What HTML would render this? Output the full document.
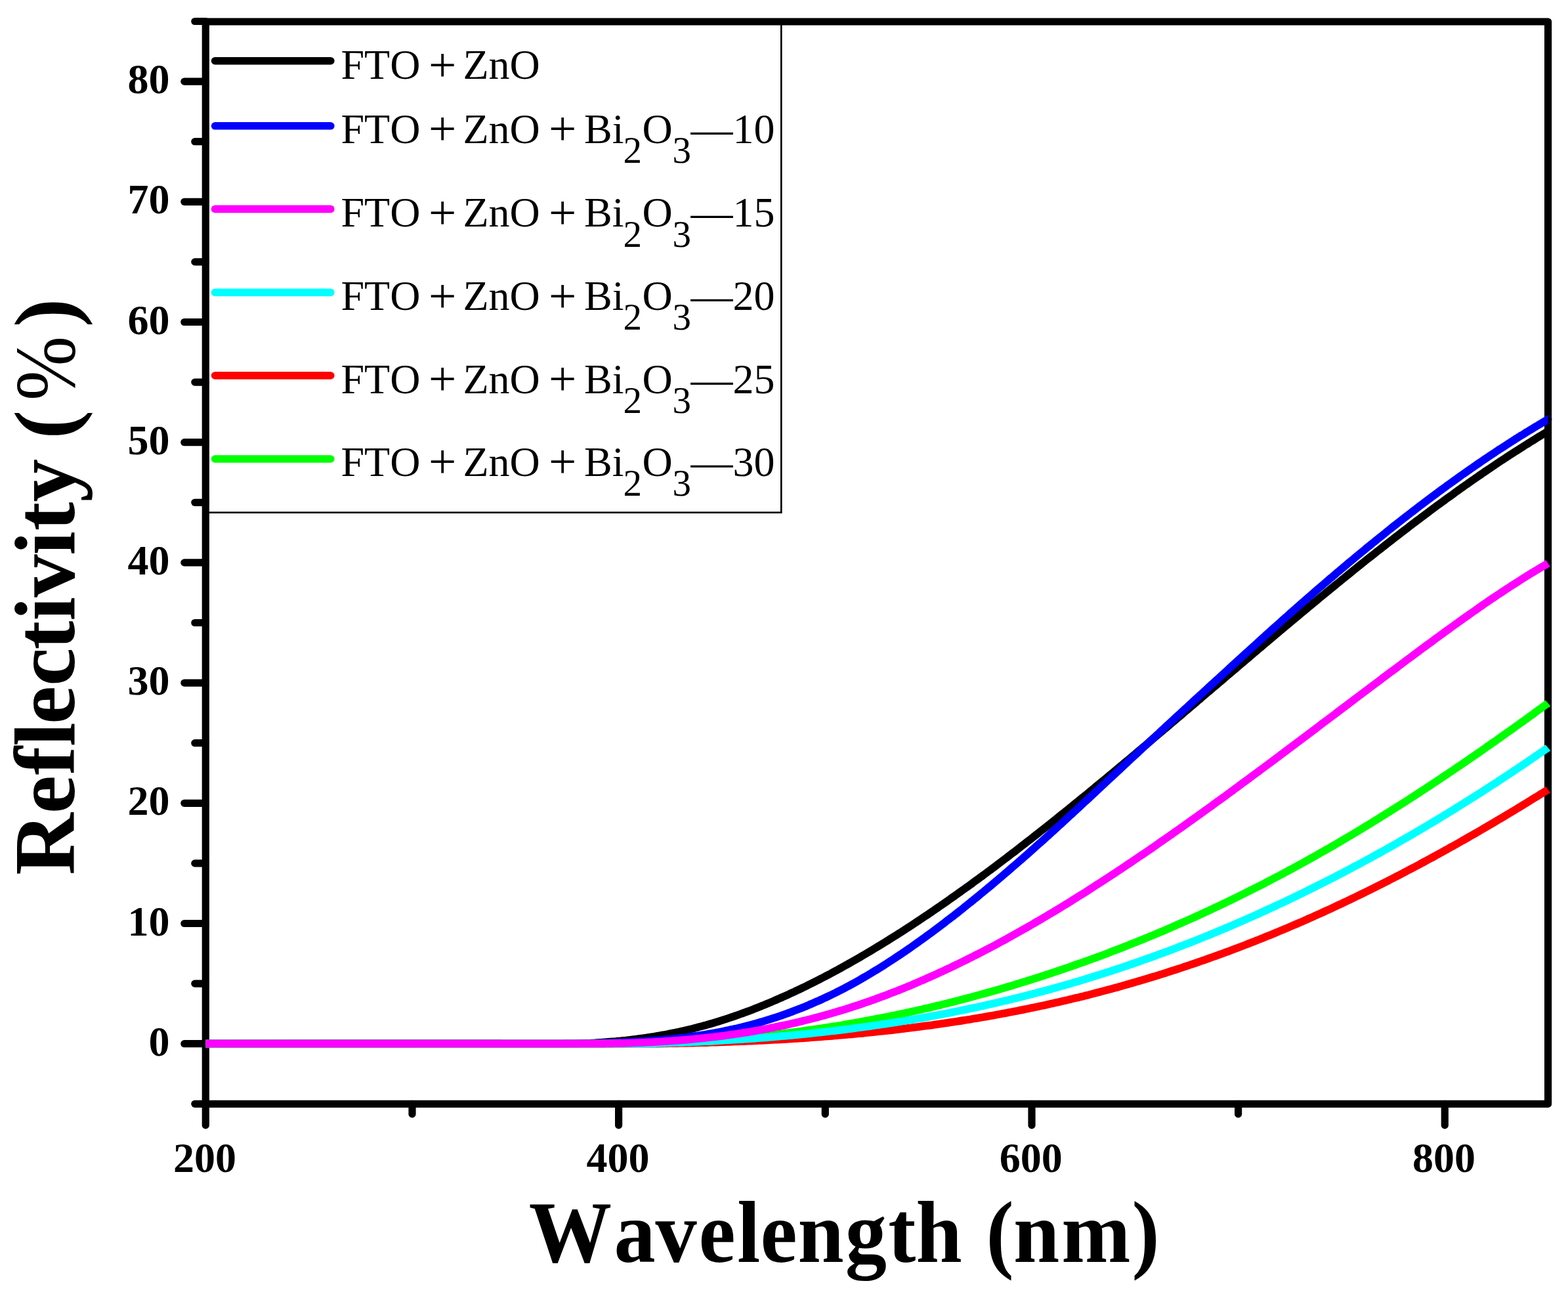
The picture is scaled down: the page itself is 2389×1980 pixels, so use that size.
<!DOCTYPE html>
<html><head><meta charset="utf-8"><title>Reflectivity vs Wavelength</title>
<style>html,body{margin:0;padding:0;background:#fff;overflow:hidden;}svg{display:block;}text{font-kerning:none;font-family:'Liberation Serif', 'Times New Roman', serif;}</style></head><body>
<svg width="2389" height="1980" viewBox="0 0 2389 1980">
<rect width="2389" height="1980" fill="#fff"/>
<g stroke="#000" stroke-width="11.2" fill="none" stroke-linecap="round">
<rect x="313.3" y="33.0" width="2045.3" height="1648.4" stroke-linejoin="round"/>
<line x1="296.8" y1="1681.3" x2="313.3" y2="1681.3"/>
<line x1="280.8" y1="1589.7" x2="313.3" y2="1589.7"/>
<line x1="296.8" y1="1498.1" x2="313.3" y2="1498.1"/>
<line x1="280.8" y1="1406.5" x2="313.3" y2="1406.5"/>
<line x1="296.8" y1="1314.9" x2="313.3" y2="1314.9"/>
<line x1="280.8" y1="1223.3" x2="313.3" y2="1223.3"/>
<line x1="296.8" y1="1131.7" x2="313.3" y2="1131.7"/>
<line x1="280.8" y1="1040.1" x2="313.3" y2="1040.1"/>
<line x1="296.8" y1="948.5" x2="313.3" y2="948.5"/>
<line x1="280.8" y1="856.9" x2="313.3" y2="856.9"/>
<line x1="296.8" y1="765.3" x2="313.3" y2="765.3"/>
<line x1="280.8" y1="673.7" x2="313.3" y2="673.7"/>
<line x1="296.8" y1="582.1" x2="313.3" y2="582.1"/>
<line x1="280.8" y1="490.5" x2="313.3" y2="490.5"/>
<line x1="296.8" y1="398.9" x2="313.3" y2="398.9"/>
<line x1="280.8" y1="307.3" x2="313.3" y2="307.3"/>
<line x1="296.8" y1="215.7" x2="313.3" y2="215.7"/>
<line x1="280.8" y1="124.1" x2="313.3" y2="124.1"/>
<line x1="296.8" y1="32.5" x2="313.3" y2="32.5"/>
<line x1="313.3" y1="1681.4" x2="313.3" y2="1713.9"/>
<line x1="628.0" y1="1681.4" x2="628.0" y2="1696.9"/>
<line x1="942.6" y1="1681.4" x2="942.6" y2="1713.9"/>
<line x1="1257.3" y1="1681.4" x2="1257.3" y2="1696.9"/>
<line x1="1572.0" y1="1681.4" x2="1572.0" y2="1713.9"/>
<line x1="1886.6" y1="1681.4" x2="1886.6" y2="1696.9"/>
<line x1="2201.3" y1="1681.4" x2="2201.3" y2="1713.9"/>
</g>
<g font-weight="bold" font-size="64" fill="#000">
<text x="258.5" y="1607.7" text-anchor="end">0</text>
<text x="258.5" y="1424.5" text-anchor="end">10</text>
<text x="258.5" y="1241.3" text-anchor="end">20</text>
<text x="258.5" y="1058.1" text-anchor="end">30</text>
<text x="258.5" y="874.9" text-anchor="end">40</text>
<text x="258.5" y="691.7" text-anchor="end">50</text>
<text x="258.5" y="508.5" text-anchor="end">60</text>
<text x="258.5" y="325.3" text-anchor="end">70</text>
<text x="258.5" y="142.1" text-anchor="end">80</text>
<text x="312.1" y="1785.3" text-anchor="middle">200</text>
<text x="941.4" y="1785.3" text-anchor="middle">400</text>
<text x="1570.8" y="1785.3" text-anchor="middle">600</text>
<text x="2200.1" y="1785.3" text-anchor="middle">800</text>
</g>
<text transform="matrix(0.950,0,0,1,0,0)" x="848.1 984.8 1051.1 1120.6 1182.3 1219.6 1279.4 1355.5 1424.5 1468.9 1542.8 1581.5 1625.2 1702.5 1815.2" y="1921.8" font-weight="bold" font-size="133.0" fill="#000">Wavelength (nm)</text>
<text transform="translate(112.6,0) rotate(-90)" y="0" font-weight="bold" font-size="131" fill="#000"><tspan x="-1332.7 -1239.3 -1180.4 -1136.7 -1102.9 -1044.7 -989.2 -945.4 -909.8 -845.4 -808.3 -764.5 -699.0 -668.5">Reflectivity (</tspan><tspan x="-610.0" font-weight="normal" textLength="98.0" lengthAdjust="spacingAndGlyphs">%</tspan><tspan x="-498.3">)</tspan></text>
<rect x="313.3" y="33.0" width="877.0" height="747.6" fill="none" stroke="#000" stroke-width="2.6"/>
<line x1="327.6" y1="92.7" x2="503.8" y2="92.7" stroke="#000000" stroke-width="11.6" stroke-linecap="round"/>
<text y="120.0" font-size="64" fill="#000"><tspan x="519.5">FTO</tspan><tspan x="653" dy="3.7" font-size="75">+</tspan><tspan x="705.5" dy="-3.7">ZnO</tspan></text>
<line x1="327.6" y1="191.8" x2="503.8" y2="191.8" stroke="#0000ff" stroke-width="11.6" stroke-linecap="round"/>
<text y="217.5" font-size="64" fill="#000"><tspan x="519.5">FTO</tspan><tspan x="653" dy="3.7" font-size="75">+</tspan><tspan x="705.5" dy="-3.7">ZnO</tspan><tspan x="836" dy="3.7" font-size="75">+</tspan><tspan x="890" dy="-3.7">Bi</tspan><tspan x="949.5" dy="30.5" font-size="57">2</tspan><tspan x="978.4" dy="-30.5">O</tspan><tspan x="1024.6" dy="30.5" font-size="57">3</tspan><tspan x="1052.6" dy="-30.5">—</tspan><tspan x="1116.6">10</tspan></text>
<line x1="327.6" y1="318.4" x2="503.8" y2="318.4" stroke="#ff00ff" stroke-width="11.6" stroke-linecap="round"/>
<text y="345.1" font-size="64" fill="#000"><tspan x="519.5">FTO</tspan><tspan x="653" dy="3.7" font-size="75">+</tspan><tspan x="705.5" dy="-3.7">ZnO</tspan><tspan x="836" dy="3.7" font-size="75">+</tspan><tspan x="890" dy="-3.7">Bi</tspan><tspan x="949.5" dy="30.5" font-size="57">2</tspan><tspan x="978.4" dy="-30.5">O</tspan><tspan x="1024.6" dy="30.5" font-size="57">3</tspan><tspan x="1052.6" dy="-30.5">—</tspan><tspan x="1116.6">15</tspan></text>
<line x1="327.6" y1="445.4" x2="503.8" y2="445.4" stroke="#00ffff" stroke-width="11.6" stroke-linecap="round"/>
<text y="471.8" font-size="64" fill="#000"><tspan x="519.5">FTO</tspan><tspan x="653" dy="3.7" font-size="75">+</tspan><tspan x="705.5" dy="-3.7">ZnO</tspan><tspan x="836" dy="3.7" font-size="75">+</tspan><tspan x="890" dy="-3.7">Bi</tspan><tspan x="949.5" dy="30.5" font-size="57">2</tspan><tspan x="978.4" dy="-30.5">O</tspan><tspan x="1024.6" dy="30.5" font-size="57">3</tspan><tspan x="1052.6" dy="-30.5">—</tspan><tspan x="1116.6">20</tspan></text>
<line x1="327.6" y1="572.0" x2="503.8" y2="572.0" stroke="#ff0000" stroke-width="11.6" stroke-linecap="round"/>
<text y="598.7" font-size="64" fill="#000"><tspan x="519.5">FTO</tspan><tspan x="653" dy="3.7" font-size="75">+</tspan><tspan x="705.5" dy="-3.7">ZnO</tspan><tspan x="836" dy="3.7" font-size="75">+</tspan><tspan x="890" dy="-3.7">Bi</tspan><tspan x="949.5" dy="30.5" font-size="57">2</tspan><tspan x="978.4" dy="-30.5">O</tspan><tspan x="1024.6" dy="30.5" font-size="57">3</tspan><tspan x="1052.6" dy="-30.5">—</tspan><tspan x="1116.6">25</tspan></text>
<line x1="327.6" y1="699.0" x2="503.8" y2="699.0" stroke="#00ff00" stroke-width="11.6" stroke-linecap="round"/>
<text y="724.7" font-size="64" fill="#000"><tspan x="519.5">FTO</tspan><tspan x="653" dy="3.7" font-size="75">+</tspan><tspan x="705.5" dy="-3.7">ZnO</tspan><tspan x="836" dy="3.7" font-size="75">+</tspan><tspan x="890" dy="-3.7">Bi</tspan><tspan x="949.5" dy="30.5" font-size="57">2</tspan><tspan x="978.4" dy="-30.5">O</tspan><tspan x="1024.6" dy="30.5" font-size="57">3</tspan><tspan x="1052.6" dy="-30.5">—</tspan><tspan x="1116.6">30</tspan></text>
<g fill="none" stroke-width="11.8" stroke-linecap="butt" stroke-linejoin="round">
<path stroke="#000000" d="M313.3,1589.7 C382.8,1589.6 659.2,1589.4 730.0,1589.4 C800.8,1589.3 735.3,1589.4 738.0,1589.5 C740.7,1589.5 743.3,1589.5 746.0,1589.6 C748.7,1589.6 751.3,1589.7 754.0,1589.7 C756.7,1589.7 759.3,1589.7 762.0,1589.7 C764.7,1589.7 767.3,1589.7 770.0,1589.7 C772.7,1589.7 775.3,1589.7 778.0,1589.7 C780.7,1589.7 783.3,1589.7 786.0,1589.7 C788.7,1589.7 791.3,1589.7 794.0,1589.7 C796.7,1589.7 799.3,1589.7 802.0,1589.7 C804.7,1589.7 807.3,1589.7 810.0,1589.7 C812.7,1589.7 815.3,1589.7 818.0,1589.7 C820.7,1589.7 823.3,1589.7 826.0,1589.7 C828.7,1589.7 831.3,1589.7 834.0,1589.7 C836.7,1589.7 839.3,1589.7 842.0,1589.7 C844.7,1589.7 847.3,1589.7 850.0,1589.7 C852.7,1589.7 855.3,1589.7 858.0,1589.7 C860.7,1589.7 863.3,1589.7 866.0,1589.7 C868.7,1589.7 871.3,1589.7 874.0,1589.7 C876.7,1589.7 879.3,1589.6 882.0,1589.5 C884.7,1589.4 887.3,1589.3 890.0,1589.2 C892.7,1589.1 895.3,1588.9 898.0,1588.8 C900.7,1588.7 903.3,1588.5 906.0,1588.4 C908.7,1588.2 911.3,1588.1 914.0,1587.9 C916.7,1587.7 919.3,1587.6 922.0,1587.4 C924.7,1587.2 927.3,1587.0 930.0,1586.7 C932.7,1586.5 935.3,1586.3 938.0,1586.1 C940.7,1585.8 943.3,1585.6 946.0,1585.3 C948.7,1585.0 951.3,1584.8 954.0,1584.5 C956.7,1584.2 959.3,1583.9 962.0,1583.6 C964.7,1583.3 967.3,1582.9 970.0,1582.6 C972.7,1582.3 975.3,1581.9 978.0,1581.5 C980.7,1581.2 983.3,1580.8 986.0,1580.4 C988.7,1580.0 991.3,1579.6 994.0,1579.2 C996.7,1578.7 999.3,1578.3 1002.0,1577.8 C1004.7,1577.4 1007.3,1576.9 1010.0,1576.4 C1012.7,1575.9 1015.3,1575.5 1018.0,1574.9 C1020.7,1574.4 1023.3,1573.9 1026.0,1573.3 C1028.7,1572.8 1031.3,1572.2 1034.0,1571.7 C1036.7,1571.1 1039.3,1570.5 1042.0,1569.9 C1044.7,1569.3 1047.3,1568.6 1050.0,1568.0 C1052.7,1567.4 1055.3,1566.7 1058.0,1566.0 C1060.7,1565.3 1063.3,1564.7 1066.0,1563.9 C1068.7,1563.2 1071.3,1562.5 1074.0,1561.8 C1076.7,1561.0 1079.3,1560.3 1082.0,1559.5 C1084.7,1558.7 1087.3,1557.9 1090.0,1557.1 C1092.7,1556.3 1095.3,1555.5 1098.0,1554.6 C1100.7,1553.8 1103.3,1552.9 1106.0,1552.1 C1108.7,1551.2 1111.3,1550.3 1114.0,1549.4 C1116.7,1548.5 1119.3,1547.6 1122.0,1546.7 C1124.7,1545.7 1127.3,1544.8 1130.0,1543.8 C1132.7,1542.9 1135.3,1541.9 1138.0,1540.9 C1140.7,1539.9 1143.3,1538.9 1146.0,1537.9 C1148.7,1536.8 1151.3,1535.8 1154.0,1534.7 C1156.7,1533.7 1159.3,1532.6 1162.0,1531.5 C1164.7,1530.5 1167.3,1529.4 1170.0,1528.3 C1172.7,1527.2 1175.3,1526.0 1178.0,1524.9 C1180.7,1523.8 1183.3,1522.6 1186.0,1521.4 C1188.7,1520.3 1191.3,1519.1 1194.0,1517.9 C1196.7,1516.7 1199.3,1515.5 1202.0,1514.3 C1204.7,1513.1 1207.3,1511.8 1210.0,1510.6 C1212.7,1509.3 1215.3,1508.1 1218.0,1506.8 C1220.7,1505.5 1223.3,1504.3 1226.0,1503.0 C1228.7,1501.7 1231.3,1500.3 1234.0,1499.0 C1236.7,1497.7 1239.3,1496.4 1242.0,1495.0 C1244.7,1493.7 1247.3,1492.3 1250.0,1490.9 C1252.7,1489.6 1255.3,1488.2 1258.0,1486.8 C1260.7,1485.4 1263.3,1484.0 1266.0,1482.6 C1268.7,1481.1 1271.3,1479.7 1274.0,1478.3 C1276.7,1476.8 1279.3,1475.3 1282.0,1473.9 C1284.7,1472.4 1287.3,1470.9 1290.0,1469.4 C1292.7,1468.0 1295.3,1466.4 1298.0,1464.9 C1300.7,1463.4 1303.3,1461.9 1306.0,1460.4 C1308.7,1458.8 1311.3,1457.3 1314.0,1455.7 C1316.7,1454.2 1319.3,1452.6 1322.0,1451.0 C1324.7,1449.4 1327.3,1447.8 1330.0,1446.2 C1332.7,1444.6 1335.3,1443.0 1338.0,1441.4 C1340.7,1439.8 1343.3,1438.2 1346.0,1436.5 C1348.7,1434.9 1351.3,1433.2 1354.0,1431.6 C1356.7,1429.9 1359.3,1428.2 1362.0,1426.5 C1364.7,1424.9 1367.3,1423.2 1370.0,1421.5 C1372.7,1419.8 1375.3,1418.1 1378.0,1416.3 C1380.7,1414.6 1383.3,1412.9 1386.0,1411.2 C1388.7,1409.4 1391.3,1407.7 1394.0,1405.9 C1396.7,1404.1 1399.3,1402.4 1402.0,1400.6 C1404.7,1398.8 1407.3,1397.0 1410.0,1395.2 C1412.7,1393.5 1415.3,1391.7 1418.0,1389.8 C1420.7,1388.0 1423.3,1386.2 1426.0,1384.4 C1428.7,1382.6 1431.3,1380.7 1434.0,1378.9 C1436.7,1377.0 1439.3,1375.2 1442.0,1373.3 C1444.7,1371.4 1447.3,1369.6 1450.0,1367.7 C1452.7,1365.8 1455.3,1363.9 1458.0,1362.0 C1460.7,1360.1 1463.3,1358.2 1466.0,1356.3 C1468.7,1354.4 1471.3,1352.5 1474.0,1350.6 C1476.7,1348.7 1479.3,1346.7 1482.0,1344.8 C1484.7,1342.8 1487.3,1340.9 1490.0,1338.9 C1492.7,1337.0 1495.3,1335.0 1498.0,1333.1 C1500.7,1331.1 1503.3,1329.1 1506.0,1327.1 C1508.7,1325.1 1511.3,1323.2 1514.0,1321.2 C1516.7,1319.2 1519.3,1317.2 1522.0,1315.1 C1524.7,1313.1 1527.3,1311.1 1530.0,1309.1 C1532.7,1307.1 1535.3,1305.0 1538.0,1303.0 C1540.7,1301.0 1543.3,1298.9 1546.0,1296.9 C1548.7,1294.8 1551.3,1292.8 1554.0,1290.7 C1556.7,1288.7 1559.3,1286.6 1562.0,1284.5 C1564.7,1282.5 1567.3,1280.4 1570.0,1278.3 C1572.7,1276.2 1575.3,1274.1 1578.0,1272.0 C1580.7,1269.9 1583.3,1267.8 1586.0,1265.7 C1588.7,1263.6 1591.3,1261.5 1594.0,1259.4 C1596.7,1257.3 1599.3,1255.2 1602.0,1253.0 C1604.7,1250.9 1607.3,1248.8 1610.0,1246.7 C1612.7,1244.5 1615.3,1242.4 1618.0,1240.2 C1620.7,1238.1 1623.3,1235.9 1626.0,1233.8 C1628.7,1231.6 1631.3,1229.5 1634.0,1227.3 C1636.7,1225.2 1639.3,1223.0 1642.0,1220.8 C1644.7,1218.7 1647.3,1216.5 1650.0,1214.3 C1652.7,1212.1 1655.3,1209.9 1658.0,1207.8 C1660.7,1205.6 1663.3,1203.4 1666.0,1201.2 C1668.7,1199.0 1671.3,1196.8 1674.0,1194.6 C1676.7,1192.4 1679.3,1190.2 1682.0,1188.0 C1684.7,1185.8 1687.3,1183.6 1690.0,1181.4 C1692.7,1179.1 1695.3,1176.9 1698.0,1174.7 C1700.7,1172.5 1703.3,1170.3 1706.0,1168.0 C1708.7,1165.8 1711.3,1163.6 1714.0,1161.4 C1716.7,1159.1 1719.3,1156.9 1722.0,1154.7 C1724.7,1152.4 1727.3,1150.2 1730.0,1148.0 C1732.7,1145.7 1735.3,1143.5 1738.0,1141.2 C1740.7,1139.0 1743.3,1136.7 1746.0,1134.5 C1748.7,1132.2 1751.3,1130.0 1754.0,1127.7 C1756.7,1125.5 1759.3,1123.2 1762.0,1121.0 C1764.7,1118.7 1767.3,1116.5 1770.0,1114.2 C1772.7,1111.9 1775.3,1109.7 1778.0,1107.4 C1780.7,1105.2 1783.3,1102.9 1786.0,1100.6 C1788.7,1098.4 1791.3,1096.1 1794.0,1093.8 C1796.7,1091.6 1799.3,1089.3 1802.0,1087.0 C1804.7,1084.8 1807.3,1082.5 1810.0,1080.2 C1812.7,1077.9 1815.3,1075.7 1818.0,1073.4 C1820.7,1071.1 1823.3,1068.9 1826.0,1066.6 C1828.7,1064.3 1831.3,1062.0 1834.0,1059.8 C1836.7,1057.5 1839.3,1055.2 1842.0,1053.0 C1844.7,1050.7 1847.3,1048.4 1850.0,1046.1 C1852.7,1043.9 1855.3,1041.6 1858.0,1039.3 C1860.7,1037.1 1863.3,1034.8 1866.0,1032.5 C1868.7,1030.2 1871.3,1028.0 1874.0,1025.7 C1876.7,1023.4 1879.3,1021.2 1882.0,1018.9 C1884.7,1016.6 1887.3,1014.4 1890.0,1012.1 C1892.7,1009.8 1895.3,1007.6 1898.0,1005.3 C1900.7,1003.0 1903.3,1000.8 1906.0,998.5 C1908.7,996.2 1911.3,994.0 1914.0,991.7 C1916.7,989.5 1919.3,987.2 1922.0,984.9 C1924.7,982.7 1927.3,980.4 1930.0,978.2 C1932.7,975.9 1935.3,973.7 1938.0,971.4 C1940.7,969.2 1943.3,966.9 1946.0,964.7 C1948.7,962.4 1951.3,960.2 1954.0,958.0 C1956.7,955.7 1959.3,953.5 1962.0,951.2 C1964.7,949.0 1967.3,946.8 1970.0,944.5 C1972.7,942.3 1975.3,940.1 1978.0,937.9 C1980.7,935.6 1983.3,933.4 1986.0,931.2 C1988.7,929.0 1991.3,926.8 1994.0,924.5 C1996.7,922.3 1999.3,920.1 2002.0,917.9 C2004.7,915.7 2007.3,913.5 2010.0,911.3 C2012.7,909.1 2015.3,906.9 2018.0,904.7 C2020.7,902.5 2023.3,900.3 2026.0,898.1 C2028.7,896.0 2031.3,893.8 2034.0,891.6 C2036.7,889.4 2039.3,887.2 2042.0,885.1 C2044.7,882.9 2047.3,880.7 2050.0,878.6 C2052.7,876.4 2055.3,874.3 2058.0,872.1 C2060.7,869.9 2063.3,867.8 2066.0,865.7 C2068.7,863.5 2071.3,861.4 2074.0,859.2 C2076.7,857.1 2079.3,855.0 2082.0,852.8 C2084.7,850.7 2087.3,848.6 2090.0,846.5 C2092.7,844.4 2095.3,842.3 2098.0,840.2 C2100.7,838.0 2103.3,835.9 2106.0,833.9 C2108.7,831.8 2111.3,829.7 2114.0,827.6 C2116.7,825.5 2119.3,823.4 2122.0,821.4 C2124.7,819.3 2127.3,817.2 2130.0,815.2 C2132.7,813.1 2135.3,811.0 2138.0,809.0 C2140.7,806.9 2143.3,804.9 2146.0,802.9 C2148.7,800.8 2151.3,798.8 2154.0,796.8 C2156.7,794.8 2159.3,792.7 2162.0,790.7 C2164.7,788.7 2167.3,786.7 2170.0,784.7 C2172.7,782.7 2175.3,780.7 2178.0,778.7 C2180.7,776.8 2183.3,774.8 2186.0,772.8 C2188.7,770.8 2191.3,768.9 2194.0,766.9 C2196.7,765.0 2199.3,763.0 2202.0,761.1 C2204.7,759.1 2207.3,757.2 2210.0,755.3 C2212.7,753.4 2215.3,751.4 2218.0,749.5 C2220.7,747.6 2223.3,745.7 2226.0,743.8 C2228.7,741.9 2231.3,740.0 2234.0,738.2 C2236.7,736.3 2239.3,734.4 2242.0,732.5 C2244.7,730.7 2247.3,728.8 2250.0,727.0 C2252.7,725.1 2255.3,723.3 2258.0,721.5 C2260.7,719.6 2263.3,717.8 2266.0,716.0 C2268.7,714.2 2271.3,712.4 2274.0,710.6 C2276.7,708.8 2279.3,707.0 2282.0,705.2 C2284.7,703.5 2287.3,701.7 2290.0,699.9 C2292.7,698.2 2295.3,696.4 2298.0,694.7 C2300.7,692.9 2303.3,691.2 2306.0,689.5 C2308.7,687.8 2311.3,686.1 2314.0,684.4 C2316.7,682.6 2319.3,681.0 2322.0,679.3 C2324.7,677.6 2327.3,675.9 2330.0,674.3 C2332.7,672.6 2335.3,670.9 2338.0,669.3 C2340.7,667.7 2343.3,666.0 2346.0,664.4 C2348.7,662.8 2351.9,660.8 2354.0,659.6 C2356.1,658.3 2357.8,657.3 2358.5,656.9"/>
<path stroke="#0000ff" d="M313.3,1589.7 C386.1,1589.7 675.9,1589.7 750.0,1589.7 C824.1,1589.7 755.3,1589.7 758.0,1589.7 C760.7,1589.7 763.3,1589.7 766.0,1589.7 C768.7,1589.7 771.3,1589.7 774.0,1589.7 C776.7,1589.7 779.3,1589.7 782.0,1589.7 C784.7,1589.7 787.3,1589.7 790.0,1589.7 C792.7,1589.7 795.3,1589.7 798.0,1589.7 C800.7,1589.7 803.3,1589.7 806.0,1589.7 C808.7,1589.7 811.3,1589.7 814.0,1589.7 C816.7,1589.7 819.3,1589.7 822.0,1589.7 C824.7,1589.7 827.3,1589.7 830.0,1589.7 C832.7,1589.7 835.3,1589.7 838.0,1589.7 C840.7,1589.7 843.3,1589.7 846.0,1589.7 C848.7,1589.6 851.3,1589.6 854.0,1589.6 C856.7,1589.6 859.3,1589.5 862.0,1589.5 C864.7,1589.5 867.3,1589.5 870.0,1589.4 C872.7,1589.4 875.3,1589.4 878.0,1589.3 C880.7,1589.3 883.3,1589.3 886.0,1589.2 C888.7,1589.2 891.3,1589.1 894.0,1589.1 C896.7,1589.0 899.3,1589.0 902.0,1588.9 C904.7,1588.9 907.3,1588.8 910.0,1588.7 C912.7,1588.7 915.3,1588.6 918.0,1588.5 C920.7,1588.5 923.3,1588.4 926.0,1588.3 C928.7,1588.2 931.3,1588.2 934.0,1588.1 C936.7,1588.0 939.3,1587.9 942.0,1587.8 C944.7,1587.7 947.3,1587.6 950.0,1587.5 C952.7,1587.3 955.3,1587.2 958.0,1587.1 C960.7,1587.0 963.3,1586.8 966.0,1586.7 C968.7,1586.6 971.3,1586.4 974.0,1586.2 C976.7,1586.1 979.3,1585.9 982.0,1585.8 C984.7,1585.6 987.3,1585.4 990.0,1585.2 C992.7,1585.0 995.3,1584.8 998.0,1584.6 C1000.7,1584.4 1003.3,1584.2 1006.0,1584.0 C1008.7,1583.7 1011.3,1583.5 1014.0,1583.2 C1016.7,1583.0 1019.3,1582.7 1022.0,1582.5 C1024.7,1582.2 1027.3,1581.9 1030.0,1581.6 C1032.7,1581.3 1035.3,1581.0 1038.0,1580.7 C1040.7,1580.4 1043.3,1580.1 1046.0,1579.8 C1048.7,1579.4 1051.3,1579.1 1054.0,1578.7 C1056.7,1578.3 1059.3,1578.0 1062.0,1577.6 C1064.7,1577.2 1067.3,1576.8 1070.0,1576.4 C1072.7,1576.0 1075.3,1575.5 1078.0,1575.1 C1080.7,1574.6 1083.3,1574.2 1086.0,1573.7 C1088.7,1573.2 1091.3,1572.7 1094.0,1572.2 C1096.7,1571.7 1099.3,1571.2 1102.0,1570.7 C1104.7,1570.2 1107.3,1569.6 1110.0,1569.0 C1112.7,1568.5 1115.3,1567.9 1118.0,1567.3 C1120.7,1566.7 1123.3,1566.1 1126.0,1565.4 C1128.7,1564.8 1131.3,1564.2 1134.0,1563.5 C1136.7,1562.8 1139.3,1562.1 1142.0,1561.4 C1144.7,1560.7 1147.3,1560.0 1150.0,1559.3 C1152.7,1558.5 1155.3,1557.8 1158.0,1557.0 C1160.7,1556.2 1163.3,1555.4 1166.0,1554.6 C1168.7,1553.8 1171.3,1553.0 1174.0,1552.2 C1176.7,1551.3 1179.3,1550.4 1182.0,1549.6 C1184.7,1548.7 1187.3,1547.8 1190.0,1546.9 C1192.7,1545.9 1195.3,1545.0 1198.0,1544.0 C1200.7,1543.1 1203.3,1542.1 1206.0,1541.1 C1208.7,1540.1 1211.3,1539.1 1214.0,1538.1 C1216.7,1537.0 1219.3,1536.0 1222.0,1534.9 C1224.7,1533.9 1227.3,1532.8 1230.0,1531.7 C1232.7,1530.5 1235.3,1529.4 1238.0,1528.3 C1240.7,1527.1 1243.3,1525.9 1246.0,1524.8 C1248.7,1523.6 1251.3,1522.4 1254.0,1521.1 C1256.7,1519.9 1259.3,1518.7 1262.0,1517.4 C1264.7,1516.1 1267.3,1514.8 1270.0,1513.5 C1272.7,1512.2 1275.3,1510.9 1278.0,1509.5 C1280.7,1508.2 1283.3,1506.8 1286.0,1505.4 C1288.7,1504.0 1291.3,1502.6 1294.0,1501.2 C1296.7,1499.7 1299.3,1498.3 1302.0,1496.8 C1304.7,1495.3 1307.3,1493.8 1310.0,1492.3 C1312.7,1490.8 1315.3,1489.3 1318.0,1487.7 C1320.7,1486.2 1323.3,1484.6 1326.0,1483.0 C1328.7,1481.4 1331.3,1479.8 1334.0,1478.1 C1336.7,1476.5 1339.3,1474.9 1342.0,1473.2 C1344.7,1471.5 1347.3,1469.8 1350.0,1468.1 C1352.7,1466.4 1355.3,1464.7 1358.0,1462.9 C1360.7,1461.2 1363.3,1459.4 1366.0,1457.7 C1368.7,1455.9 1371.3,1454.1 1374.0,1452.3 C1376.7,1450.5 1379.3,1448.7 1382.0,1446.8 C1384.7,1445.0 1387.3,1443.1 1390.0,1441.3 C1392.7,1439.4 1395.3,1437.5 1398.0,1435.6 C1400.7,1433.7 1403.3,1431.8 1406.0,1429.9 C1408.7,1428.0 1411.3,1426.0 1414.0,1424.1 C1416.7,1422.1 1419.3,1420.2 1422.0,1418.2 C1424.7,1416.2 1427.3,1414.2 1430.0,1412.2 C1432.7,1410.2 1435.3,1408.2 1438.0,1406.2 C1440.7,1404.1 1443.3,1402.1 1446.0,1400.1 C1448.7,1398.0 1451.3,1395.9 1454.0,1393.9 C1456.7,1391.8 1459.3,1389.7 1462.0,1387.6 C1464.7,1385.5 1467.3,1383.4 1470.0,1381.2 C1472.7,1379.1 1475.3,1377.0 1478.0,1374.8 C1480.7,1372.7 1483.3,1370.5 1486.0,1368.4 C1488.7,1366.2 1491.3,1364.0 1494.0,1361.8 C1496.7,1359.6 1499.3,1357.4 1502.0,1355.2 C1504.7,1353.0 1507.3,1350.8 1510.0,1348.6 C1512.7,1346.3 1515.3,1344.1 1518.0,1341.8 C1520.7,1339.6 1523.3,1337.3 1526.0,1335.1 C1528.7,1332.8 1531.3,1330.5 1534.0,1328.2 C1536.7,1325.9 1539.3,1323.6 1542.0,1321.3 C1544.7,1319.0 1547.3,1316.7 1550.0,1314.4 C1552.7,1312.1 1555.3,1309.7 1558.0,1307.4 C1560.7,1305.1 1563.3,1302.7 1566.0,1300.4 C1568.7,1298.0 1571.3,1295.6 1574.0,1293.3 C1576.7,1290.9 1579.3,1288.5 1582.0,1286.1 C1584.7,1283.8 1587.3,1281.4 1590.0,1279.0 C1592.7,1276.6 1595.3,1274.2 1598.0,1271.8 C1600.7,1269.3 1603.3,1266.9 1606.0,1264.5 C1608.7,1262.1 1611.3,1259.6 1614.0,1257.2 C1616.7,1254.8 1619.3,1252.3 1622.0,1249.9 C1624.7,1247.4 1627.3,1245.0 1630.0,1242.5 C1632.7,1240.1 1635.3,1237.6 1638.0,1235.2 C1640.7,1232.7 1643.3,1230.2 1646.0,1227.8 C1648.7,1225.3 1651.3,1222.8 1654.0,1220.3 C1656.7,1217.9 1659.3,1215.4 1662.0,1212.9 C1664.7,1210.4 1667.3,1207.9 1670.0,1205.5 C1672.7,1203.0 1675.3,1200.5 1678.0,1198.0 C1680.7,1195.5 1683.3,1193.0 1686.0,1190.5 C1688.7,1188.1 1691.3,1185.6 1694.0,1183.1 C1696.7,1180.6 1699.3,1178.1 1702.0,1175.6 C1704.7,1173.2 1707.3,1170.7 1710.0,1168.2 C1712.7,1165.7 1715.3,1163.2 1718.0,1160.8 C1720.7,1158.3 1723.3,1155.8 1726.0,1153.3 C1728.7,1150.8 1731.3,1148.4 1734.0,1145.9 C1736.7,1143.4 1739.3,1141.0 1742.0,1138.5 C1744.7,1136.0 1747.3,1133.5 1750.0,1131.1 C1752.7,1128.6 1755.3,1126.1 1758.0,1123.7 C1760.7,1121.2 1763.3,1118.7 1766.0,1116.3 C1768.7,1113.8 1771.3,1111.3 1774.0,1108.9 C1776.7,1106.4 1779.3,1104.0 1782.0,1101.5 C1784.7,1099.1 1787.3,1096.6 1790.0,1094.1 C1792.7,1091.7 1795.3,1089.2 1798.0,1086.8 C1800.7,1084.3 1803.3,1081.9 1806.0,1079.4 C1808.7,1077.0 1811.3,1074.5 1814.0,1072.1 C1816.7,1069.6 1819.3,1067.2 1822.0,1064.7 C1824.7,1062.3 1827.3,1059.8 1830.0,1057.4 C1832.7,1054.9 1835.3,1052.5 1838.0,1050.1 C1840.7,1047.6 1843.3,1045.2 1846.0,1042.7 C1848.7,1040.3 1851.3,1037.8 1854.0,1035.4 C1856.7,1033.0 1859.3,1030.5 1862.0,1028.1 C1864.7,1025.6 1867.3,1023.2 1870.0,1020.8 C1872.7,1018.3 1875.3,1015.9 1878.0,1013.4 C1880.7,1011.0 1883.3,1008.6 1886.0,1006.1 C1888.7,1003.7 1891.3,1001.3 1894.0,998.8 C1896.7,996.4 1899.3,994.0 1902.0,991.6 C1904.7,989.1 1907.3,986.7 1910.0,984.3 C1912.7,981.9 1915.3,979.5 1918.0,977.0 C1920.7,974.6 1923.3,972.2 1926.0,969.8 C1928.7,967.4 1931.3,965.0 1934.0,962.6 C1936.7,960.2 1939.3,957.8 1942.0,955.4 C1944.7,953.0 1947.3,950.7 1950.0,948.3 C1952.7,945.9 1955.3,943.5 1958.0,941.1 C1960.7,938.8 1963.3,936.4 1966.0,934.0 C1968.7,931.7 1971.3,929.3 1974.0,927.0 C1976.7,924.6 1979.3,922.3 1982.0,919.9 C1984.7,917.6 1987.3,915.3 1990.0,912.9 C1992.7,910.6 1995.3,908.3 1998.0,906.0 C2000.7,903.6 2003.3,901.3 2006.0,899.0 C2008.7,896.7 2011.3,894.4 2014.0,892.1 C2016.7,889.8 2019.3,887.5 2022.0,885.2 C2024.7,883.0 2027.3,880.7 2030.0,878.4 C2032.7,876.1 2035.3,873.9 2038.0,871.6 C2040.7,869.4 2043.3,867.1 2046.0,864.9 C2048.7,862.6 2051.3,860.4 2054.0,858.1 C2056.7,855.9 2059.3,853.7 2062.0,851.5 C2064.7,849.2 2067.3,847.0 2070.0,844.8 C2072.7,842.6 2075.3,840.4 2078.0,838.2 C2080.7,836.0 2083.3,833.9 2086.0,831.7 C2088.7,829.5 2091.3,827.3 2094.0,825.2 C2096.7,823.0 2099.3,820.8 2102.0,818.7 C2104.7,816.5 2107.3,814.4 2110.0,812.3 C2112.7,810.1 2115.3,808.0 2118.0,805.9 C2120.7,803.8 2123.3,801.6 2126.0,799.5 C2128.7,797.4 2131.3,795.3 2134.0,793.2 C2136.7,791.2 2139.3,789.1 2142.0,787.0 C2144.7,784.9 2147.3,782.9 2150.0,780.8 C2152.7,778.8 2155.3,776.7 2158.0,774.7 C2160.7,772.6 2163.3,770.6 2166.0,768.6 C2168.7,766.5 2171.3,764.5 2174.0,762.5 C2176.7,760.5 2179.3,758.5 2182.0,756.5 C2184.7,754.5 2187.3,752.5 2190.0,750.6 C2192.7,748.6 2195.3,746.6 2198.0,744.7 C2200.7,742.7 2203.3,740.8 2206.0,738.8 C2208.7,736.9 2211.3,735.0 2214.0,733.1 C2216.7,731.1 2219.3,729.2 2222.0,727.3 C2224.7,725.4 2227.3,723.5 2230.0,721.7 C2232.7,719.8 2235.3,717.9 2238.0,716.0 C2240.7,714.2 2243.3,712.3 2246.0,710.5 C2248.7,708.6 2251.3,706.8 2254.0,705.0 C2256.7,703.2 2259.3,701.3 2262.0,699.5 C2264.7,697.7 2267.3,695.9 2270.0,694.1 C2272.7,692.4 2275.3,690.6 2278.0,688.8 C2280.7,687.1 2283.3,685.3 2286.0,683.6 C2288.7,681.8 2291.3,680.1 2294.0,678.4 C2296.7,676.6 2299.3,674.9 2302.0,673.2 C2304.7,671.5 2307.3,669.8 2310.0,668.1 C2312.7,666.5 2315.3,664.8 2318.0,663.1 C2320.7,661.5 2323.3,659.8 2326.0,658.2 C2328.7,656.6 2331.3,654.9 2334.0,653.3 C2336.7,651.7 2339.3,650.1 2342.0,648.5 C2344.7,646.9 2347.3,645.3 2350.0,643.7 C2352.7,642.2 2356.6,639.9 2358.0,639.1 C2359.4,638.2 2358.4,638.8 2358.5,638.8"/>
<path stroke="#ff0000" d="M313.3,1589.7 C411.1,1589.7 800.9,1589.7 900.0,1589.7 C999.1,1589.7 905.3,1589.7 908.0,1589.7 C910.7,1589.7 913.3,1589.7 916.0,1589.7 C918.7,1589.7 921.3,1589.7 924.0,1589.7 C926.7,1589.7 929.3,1589.7 932.0,1589.7 C934.7,1589.7 937.3,1589.7 940.0,1589.7 C942.7,1589.7 945.3,1589.7 948.0,1589.7 C950.7,1589.7 953.3,1589.7 956.0,1589.7 C958.7,1589.7 961.3,1589.7 964.0,1589.7 C966.7,1589.7 969.3,1589.7 972.0,1589.7 C974.7,1589.7 977.3,1589.7 980.0,1589.7 C982.7,1589.7 985.3,1589.7 988.0,1589.7 C990.7,1589.7 993.3,1589.6 996.0,1589.6 C998.7,1589.5 1001.3,1589.5 1004.0,1589.5 C1006.7,1589.4 1009.3,1589.4 1012.0,1589.4 C1014.7,1589.3 1017.3,1589.3 1020.0,1589.2 C1022.7,1589.2 1025.3,1589.1 1028.0,1589.1 C1030.7,1589.0 1033.3,1589.0 1036.0,1588.9 C1038.7,1588.9 1041.3,1588.8 1044.0,1588.8 C1046.7,1588.7 1049.3,1588.6 1052.0,1588.6 C1054.7,1588.5 1057.3,1588.5 1060.0,1588.4 C1062.7,1588.3 1065.3,1588.3 1068.0,1588.2 C1070.7,1588.1 1073.3,1588.0 1076.0,1588.0 C1078.7,1587.9 1081.3,1587.8 1084.0,1587.7 C1086.7,1587.7 1089.3,1587.6 1092.0,1587.5 C1094.7,1587.4 1097.3,1587.3 1100.0,1587.2 C1102.7,1587.1 1105.3,1587.0 1108.0,1586.9 C1110.7,1586.8 1113.3,1586.7 1116.0,1586.6 C1118.7,1586.5 1121.3,1586.4 1124.0,1586.3 C1126.7,1586.2 1129.3,1586.1 1132.0,1586.0 C1134.7,1585.9 1137.3,1585.8 1140.0,1585.7 C1142.7,1585.6 1145.3,1585.4 1148.0,1585.3 C1150.7,1585.2 1153.3,1585.1 1156.0,1584.9 C1158.7,1584.8 1161.3,1584.7 1164.0,1584.5 C1166.7,1584.4 1169.3,1584.3 1172.0,1584.1 C1174.7,1584.0 1177.3,1583.9 1180.0,1583.7 C1182.7,1583.6 1185.3,1583.4 1188.0,1583.3 C1190.7,1583.1 1193.3,1583.0 1196.0,1582.8 C1198.7,1582.6 1201.3,1582.5 1204.0,1582.3 C1206.7,1582.2 1209.3,1582.0 1212.0,1581.8 C1214.7,1581.6 1217.3,1581.5 1220.0,1581.3 C1222.7,1581.1 1225.3,1580.9 1228.0,1580.8 C1230.7,1580.6 1233.3,1580.4 1236.0,1580.2 C1238.7,1580.0 1241.3,1579.8 1244.0,1579.6 C1246.7,1579.4 1249.3,1579.2 1252.0,1579.0 C1254.7,1578.8 1257.3,1578.6 1260.0,1578.4 C1262.7,1578.2 1265.3,1578.0 1268.0,1577.8 C1270.7,1577.5 1273.3,1577.3 1276.0,1577.1 C1278.7,1576.9 1281.3,1576.6 1284.0,1576.4 C1286.7,1576.2 1289.3,1575.9 1292.0,1575.7 C1294.7,1575.5 1297.3,1575.2 1300.0,1575.0 C1302.7,1574.7 1305.3,1574.5 1308.0,1574.2 C1310.7,1574.0 1313.3,1573.7 1316.0,1573.5 C1318.7,1573.2 1321.3,1572.9 1324.0,1572.7 C1326.7,1572.4 1329.3,1572.1 1332.0,1571.9 C1334.7,1571.6 1337.3,1571.3 1340.0,1571.0 C1342.7,1570.7 1345.3,1570.4 1348.0,1570.1 C1350.7,1569.9 1353.3,1569.6 1356.0,1569.3 C1358.7,1569.0 1361.3,1568.7 1364.0,1568.3 C1366.7,1568.0 1369.3,1567.7 1372.0,1567.4 C1374.7,1567.1 1377.3,1566.8 1380.0,1566.4 C1382.7,1566.1 1385.3,1565.8 1388.0,1565.5 C1390.7,1565.1 1393.3,1564.8 1396.0,1564.4 C1398.7,1564.1 1401.3,1563.8 1404.0,1563.4 C1406.7,1563.1 1409.3,1562.7 1412.0,1562.3 C1414.7,1562.0 1417.3,1561.6 1420.0,1561.3 C1422.7,1560.9 1425.3,1560.5 1428.0,1560.1 C1430.7,1559.8 1433.3,1559.4 1436.0,1559.0 C1438.7,1558.6 1441.3,1558.2 1444.0,1557.8 C1446.7,1557.4 1449.3,1557.0 1452.0,1556.6 C1454.7,1556.2 1457.3,1555.8 1460.0,1555.4 C1462.7,1555.0 1465.3,1554.6 1468.0,1554.1 C1470.7,1553.7 1473.3,1553.3 1476.0,1552.9 C1478.7,1552.4 1481.3,1552.0 1484.0,1551.5 C1486.7,1551.1 1489.3,1550.7 1492.0,1550.2 C1494.7,1549.8 1497.3,1549.3 1500.0,1548.8 C1502.7,1548.4 1505.3,1547.9 1508.0,1547.4 C1510.7,1547.0 1513.3,1546.5 1516.0,1546.0 C1518.7,1545.5 1521.3,1545.0 1524.0,1544.5 C1526.7,1544.1 1529.3,1543.6 1532.0,1543.1 C1534.7,1542.6 1537.3,1542.0 1540.0,1541.5 C1542.7,1541.0 1545.3,1540.5 1548.0,1540.0 C1550.7,1539.5 1553.3,1538.9 1556.0,1538.4 C1558.7,1537.9 1561.3,1537.3 1564.0,1536.8 C1566.7,1536.2 1569.3,1535.7 1572.0,1535.1 C1574.7,1534.6 1577.3,1534.0 1580.0,1533.5 C1582.7,1532.9 1585.3,1532.3 1588.0,1531.8 C1590.7,1531.2 1593.3,1530.6 1596.0,1530.0 C1598.7,1529.4 1601.3,1528.8 1604.0,1528.2 C1606.7,1527.6 1609.3,1527.0 1612.0,1526.4 C1614.7,1525.8 1617.3,1525.2 1620.0,1524.6 C1622.7,1524.0 1625.3,1523.3 1628.0,1522.7 C1630.7,1522.1 1633.3,1521.4 1636.0,1520.8 C1638.7,1520.2 1641.3,1519.5 1644.0,1518.9 C1646.7,1518.2 1649.3,1517.5 1652.0,1516.9 C1654.7,1516.2 1657.3,1515.5 1660.0,1514.9 C1662.7,1514.2 1665.3,1513.5 1668.0,1512.8 C1670.7,1512.1 1673.3,1511.4 1676.0,1510.7 C1678.7,1510.0 1681.3,1509.3 1684.0,1508.6 C1686.7,1507.9 1689.3,1507.2 1692.0,1506.5 C1694.7,1505.8 1697.3,1505.0 1700.0,1504.3 C1702.7,1503.6 1705.3,1502.8 1708.0,1502.1 C1710.7,1501.3 1713.3,1500.6 1716.0,1499.8 C1718.7,1499.1 1721.3,1498.3 1724.0,1497.5 C1726.7,1496.8 1729.3,1496.0 1732.0,1495.2 C1734.7,1494.4 1737.3,1493.6 1740.0,1492.8 C1742.7,1492.1 1745.3,1491.3 1748.0,1490.5 C1750.7,1489.6 1753.3,1488.8 1756.0,1488.0 C1758.7,1487.2 1761.3,1486.4 1764.0,1485.6 C1766.7,1484.7 1769.3,1483.9 1772.0,1483.1 C1774.7,1482.2 1777.3,1481.4 1780.0,1480.5 C1782.7,1479.7 1785.3,1478.8 1788.0,1477.9 C1790.7,1477.1 1793.3,1476.2 1796.0,1475.3 C1798.7,1474.5 1801.3,1473.6 1804.0,1472.7 C1806.7,1471.8 1809.3,1470.9 1812.0,1470.0 C1814.7,1469.1 1817.3,1468.2 1820.0,1467.3 C1822.7,1466.4 1825.3,1465.5 1828.0,1464.5 C1830.7,1463.6 1833.3,1462.7 1836.0,1461.8 C1838.7,1460.8 1841.3,1459.9 1844.0,1458.9 C1846.7,1458.0 1849.3,1457.0 1852.0,1456.1 C1854.7,1455.1 1857.3,1454.1 1860.0,1453.2 C1862.7,1452.2 1865.3,1451.2 1868.0,1450.2 C1870.7,1449.3 1873.3,1448.3 1876.0,1447.3 C1878.7,1446.3 1881.3,1445.3 1884.0,1444.3 C1886.7,1443.3 1889.3,1442.2 1892.0,1441.2 C1894.7,1440.2 1897.3,1439.2 1900.0,1438.1 C1902.7,1437.1 1905.3,1436.1 1908.0,1435.0 C1910.7,1434.0 1913.3,1432.9 1916.0,1431.9 C1918.7,1430.8 1921.3,1429.7 1924.0,1428.7 C1926.7,1427.6 1929.3,1426.5 1932.0,1425.4 C1934.7,1424.4 1937.3,1423.3 1940.0,1422.2 C1942.7,1421.1 1945.3,1420.0 1948.0,1418.9 C1950.7,1417.8 1953.3,1416.6 1956.0,1415.5 C1958.7,1414.4 1961.3,1413.3 1964.0,1412.1 C1966.7,1411.0 1969.3,1409.9 1972.0,1408.7 C1974.7,1407.6 1977.3,1406.4 1980.0,1405.3 C1982.7,1404.1 1985.3,1403.0 1988.0,1401.8 C1990.7,1400.6 1993.3,1399.4 1996.0,1398.2 C1998.7,1397.1 2001.3,1395.9 2004.0,1394.7 C2006.7,1393.5 2009.3,1392.3 2012.0,1391.1 C2014.7,1389.9 2017.3,1388.7 2020.0,1387.4 C2022.7,1386.2 2025.3,1385.0 2028.0,1383.8 C2030.7,1382.5 2033.3,1381.3 2036.0,1380.0 C2038.7,1378.8 2041.3,1377.5 2044.0,1376.3 C2046.7,1375.0 2049.3,1373.8 2052.0,1372.5 C2054.7,1371.2 2057.3,1370.0 2060.0,1368.7 C2062.7,1367.4 2065.3,1366.1 2068.0,1364.8 C2070.7,1363.5 2073.3,1362.2 2076.0,1360.9 C2078.7,1359.6 2081.3,1358.3 2084.0,1357.0 C2086.7,1355.7 2089.3,1354.4 2092.0,1353.0 C2094.7,1351.7 2097.3,1350.4 2100.0,1349.0 C2102.7,1347.7 2105.3,1346.4 2108.0,1345.0 C2110.7,1343.7 2113.3,1342.3 2116.0,1340.9 C2118.7,1339.6 2121.3,1338.2 2124.0,1336.8 C2126.7,1335.5 2129.3,1334.1 2132.0,1332.7 C2134.7,1331.3 2137.3,1329.9 2140.0,1328.5 C2142.7,1327.1 2145.3,1325.7 2148.0,1324.3 C2150.7,1322.9 2153.3,1321.5 2156.0,1320.1 C2158.7,1318.7 2161.3,1317.3 2164.0,1315.8 C2166.7,1314.4 2169.3,1313.0 2172.0,1311.5 C2174.7,1310.1 2177.3,1308.7 2180.0,1307.2 C2182.7,1305.8 2185.3,1304.3 2188.0,1302.8 C2190.7,1301.4 2193.3,1299.9 2196.0,1298.4 C2198.7,1297.0 2201.3,1295.5 2204.0,1294.0 C2206.7,1292.5 2209.3,1291.0 2212.0,1289.6 C2214.7,1288.1 2217.3,1286.6 2220.0,1285.1 C2222.7,1283.6 2225.3,1282.1 2228.0,1280.5 C2230.7,1279.0 2233.3,1277.5 2236.0,1276.0 C2238.7,1274.5 2241.3,1272.9 2244.0,1271.4 C2246.7,1269.9 2249.3,1268.3 2252.0,1266.8 C2254.7,1265.3 2257.3,1263.7 2260.0,1262.2 C2262.7,1260.6 2265.3,1259.0 2268.0,1257.5 C2270.7,1255.9 2273.3,1254.4 2276.0,1252.8 C2278.7,1251.2 2281.3,1249.6 2284.0,1248.0 C2286.7,1246.5 2289.3,1244.9 2292.0,1243.3 C2294.7,1241.7 2297.3,1240.1 2300.0,1238.5 C2302.7,1236.9 2305.3,1235.3 2308.0,1233.7 C2310.7,1232.1 2313.3,1230.4 2316.0,1228.8 C2318.7,1227.2 2321.3,1225.6 2324.0,1224.0 C2326.7,1222.3 2329.3,1220.7 2332.0,1219.0 C2334.7,1217.4 2337.3,1215.8 2340.0,1214.1 C2342.7,1212.5 2345.3,1210.8 2348.0,1209.2 C2350.7,1207.5 2354.2,1205.3 2356.0,1204.2 C2357.8,1203.1 2358.1,1202.9 2358.5,1202.6"/>
<path stroke="#00ff00" d="M313.3,1589.7 C402.8,1589.7 759.2,1589.7 850.0,1589.7 C940.8,1589.7 855.3,1589.7 858.0,1589.7 C860.7,1589.7 863.3,1589.7 866.0,1589.7 C868.7,1589.7 871.3,1589.7 874.0,1589.7 C876.7,1589.7 879.3,1589.7 882.0,1589.7 C884.7,1589.7 887.3,1589.7 890.0,1589.7 C892.7,1589.7 895.3,1589.7 898.0,1589.7 C900.7,1589.7 903.3,1589.7 906.0,1589.7 C908.7,1589.7 911.3,1589.7 914.0,1589.7 C916.7,1589.7 919.3,1589.7 922.0,1589.7 C924.7,1589.7 927.3,1589.7 930.0,1589.7 C932.7,1589.7 935.3,1589.7 938.0,1589.7 C940.7,1589.7 943.3,1589.7 946.0,1589.7 C948.7,1589.6 951.3,1589.6 954.0,1589.5 C956.7,1589.5 959.3,1589.4 962.0,1589.4 C964.7,1589.3 967.3,1589.3 970.0,1589.2 C972.7,1589.2 975.3,1589.1 978.0,1589.0 C980.7,1589.0 983.3,1588.9 986.0,1588.8 C988.7,1588.7 991.3,1588.7 994.0,1588.6 C996.7,1588.5 999.3,1588.4 1002.0,1588.3 C1004.7,1588.3 1007.3,1588.2 1010.0,1588.1 C1012.7,1588.0 1015.3,1587.9 1018.0,1587.8 C1020.7,1587.7 1023.3,1587.6 1026.0,1587.5 C1028.7,1587.3 1031.3,1587.2 1034.0,1587.1 C1036.7,1587.0 1039.3,1586.9 1042.0,1586.7 C1044.7,1586.6 1047.3,1586.5 1050.0,1586.3 C1052.7,1586.2 1055.3,1586.1 1058.0,1585.9 C1060.7,1585.8 1063.3,1585.6 1066.0,1585.5 C1068.7,1585.3 1071.3,1585.2 1074.0,1585.0 C1076.7,1584.8 1079.3,1584.7 1082.0,1584.5 C1084.7,1584.3 1087.3,1584.1 1090.0,1583.9 C1092.7,1583.8 1095.3,1583.6 1098.0,1583.4 C1100.7,1583.2 1103.3,1583.0 1106.0,1582.8 C1108.7,1582.6 1111.3,1582.4 1114.0,1582.1 C1116.7,1581.9 1119.3,1581.7 1122.0,1581.5 C1124.7,1581.2 1127.3,1581.0 1130.0,1580.8 C1132.7,1580.5 1135.3,1580.3 1138.0,1580.0 C1140.7,1579.8 1143.3,1579.5 1146.0,1579.3 C1148.7,1579.0 1151.3,1578.8 1154.0,1578.5 C1156.7,1578.2 1159.3,1578.0 1162.0,1577.7 C1164.7,1577.4 1167.3,1577.1 1170.0,1576.8 C1172.7,1576.5 1175.3,1576.2 1178.0,1575.9 C1180.7,1575.6 1183.3,1575.3 1186.0,1575.0 C1188.7,1574.7 1191.3,1574.4 1194.0,1574.1 C1196.7,1573.7 1199.3,1573.4 1202.0,1573.1 C1204.7,1572.7 1207.3,1572.4 1210.0,1572.1 C1212.7,1571.7 1215.3,1571.4 1218.0,1571.0 C1220.7,1570.7 1223.3,1570.3 1226.0,1569.9 C1228.7,1569.6 1231.3,1569.2 1234.0,1568.8 C1236.7,1568.4 1239.3,1568.1 1242.0,1567.7 C1244.7,1567.3 1247.3,1566.9 1250.0,1566.5 C1252.7,1566.1 1255.3,1565.7 1258.0,1565.3 C1260.7,1564.9 1263.3,1564.5 1266.0,1564.0 C1268.7,1563.6 1271.3,1563.2 1274.0,1562.8 C1276.7,1562.3 1279.3,1561.9 1282.0,1561.5 C1284.7,1561.0 1287.3,1560.6 1290.0,1560.1 C1292.7,1559.7 1295.3,1559.2 1298.0,1558.7 C1300.7,1558.3 1303.3,1557.8 1306.0,1557.3 C1308.7,1556.9 1311.3,1556.4 1314.0,1555.9 C1316.7,1555.4 1319.3,1554.9 1322.0,1554.4 C1324.7,1553.9 1327.3,1553.4 1330.0,1552.9 C1332.7,1552.4 1335.3,1551.9 1338.0,1551.4 C1340.7,1550.9 1343.3,1550.4 1346.0,1549.8 C1348.7,1549.3 1351.3,1548.8 1354.0,1548.2 C1356.7,1547.7 1359.3,1547.1 1362.0,1546.6 C1364.7,1546.0 1367.3,1545.5 1370.0,1544.9 C1372.7,1544.4 1375.3,1543.8 1378.0,1543.2 C1380.7,1542.7 1383.3,1542.1 1386.0,1541.5 C1388.7,1540.9 1391.3,1540.3 1394.0,1539.7 C1396.7,1539.1 1399.3,1538.5 1402.0,1537.9 C1404.7,1537.3 1407.3,1536.7 1410.0,1536.1 C1412.7,1535.5 1415.3,1534.9 1418.0,1534.2 C1420.7,1533.6 1423.3,1533.0 1426.0,1532.3 C1428.7,1531.7 1431.3,1531.0 1434.0,1530.4 C1436.7,1529.7 1439.3,1529.1 1442.0,1528.4 C1444.7,1527.8 1447.3,1527.1 1450.0,1526.4 C1452.7,1525.8 1455.3,1525.1 1458.0,1524.4 C1460.7,1523.7 1463.3,1523.0 1466.0,1522.3 C1468.7,1521.6 1471.3,1520.9 1474.0,1520.2 C1476.7,1519.5 1479.3,1518.8 1482.0,1518.1 C1484.7,1517.4 1487.3,1516.7 1490.0,1515.9 C1492.7,1515.2 1495.3,1514.5 1498.0,1513.7 C1500.7,1513.0 1503.3,1512.3 1506.0,1511.5 C1508.7,1510.8 1511.3,1510.0 1514.0,1509.3 C1516.7,1508.5 1519.3,1507.7 1522.0,1507.0 C1524.7,1506.2 1527.3,1505.4 1530.0,1504.6 C1532.7,1503.8 1535.3,1503.0 1538.0,1502.3 C1540.7,1501.5 1543.3,1500.7 1546.0,1499.9 C1548.7,1499.0 1551.3,1498.2 1554.0,1497.4 C1556.7,1496.6 1559.3,1495.8 1562.0,1495.0 C1564.7,1494.1 1567.3,1493.3 1570.0,1492.5 C1572.7,1491.6 1575.3,1490.8 1578.0,1489.9 C1580.7,1489.1 1583.3,1488.2 1586.0,1487.4 C1588.7,1486.5 1591.3,1485.6 1594.0,1484.7 C1596.7,1483.9 1599.3,1483.0 1602.0,1482.1 C1604.7,1481.2 1607.3,1480.3 1610.0,1479.4 C1612.7,1478.5 1615.3,1477.6 1618.0,1476.7 C1620.7,1475.8 1623.3,1474.9 1626.0,1474.0 C1628.7,1473.1 1631.3,1472.2 1634.0,1471.2 C1636.7,1470.3 1639.3,1469.4 1642.0,1468.4 C1644.7,1467.5 1647.3,1466.5 1650.0,1465.6 C1652.7,1464.6 1655.3,1463.7 1658.0,1462.7 C1660.7,1461.7 1663.3,1460.8 1666.0,1459.8 C1668.7,1458.8 1671.3,1457.8 1674.0,1456.9 C1676.7,1455.9 1679.3,1454.9 1682.0,1453.9 C1684.7,1452.9 1687.3,1451.9 1690.0,1450.9 C1692.7,1449.8 1695.3,1448.8 1698.0,1447.8 C1700.7,1446.8 1703.3,1445.8 1706.0,1444.7 C1708.7,1443.7 1711.3,1442.6 1714.0,1441.6 C1716.7,1440.6 1719.3,1439.5 1722.0,1438.4 C1724.7,1437.4 1727.3,1436.3 1730.0,1435.3 C1732.7,1434.2 1735.3,1433.1 1738.0,1432.0 C1740.7,1430.9 1743.3,1429.9 1746.0,1428.8 C1748.7,1427.7 1751.3,1426.6 1754.0,1425.5 C1756.7,1424.4 1759.3,1423.3 1762.0,1422.1 C1764.7,1421.0 1767.3,1419.9 1770.0,1418.8 C1772.7,1417.6 1775.3,1416.5 1778.0,1415.4 C1780.7,1414.2 1783.3,1413.1 1786.0,1411.9 C1788.7,1410.8 1791.3,1409.6 1794.0,1408.4 C1796.7,1407.3 1799.3,1406.1 1802.0,1404.9 C1804.7,1403.7 1807.3,1402.6 1810.0,1401.4 C1812.7,1400.2 1815.3,1399.0 1818.0,1397.8 C1820.7,1396.6 1823.3,1395.4 1826.0,1394.2 C1828.7,1392.9 1831.3,1391.7 1834.0,1390.5 C1836.7,1389.3 1839.3,1388.0 1842.0,1386.8 C1844.7,1385.5 1847.3,1384.3 1850.0,1383.0 C1852.7,1381.8 1855.3,1380.5 1858.0,1379.3 C1860.7,1378.0 1863.3,1376.7 1866.0,1375.5 C1868.7,1374.2 1871.3,1372.9 1874.0,1371.6 C1876.7,1370.3 1879.3,1369.0 1882.0,1367.7 C1884.7,1366.4 1887.3,1365.1 1890.0,1363.8 C1892.7,1362.5 1895.3,1361.2 1898.0,1359.8 C1900.7,1358.5 1903.3,1357.2 1906.0,1355.8 C1908.7,1354.5 1911.3,1353.1 1914.0,1351.8 C1916.7,1350.4 1919.3,1349.1 1922.0,1347.7 C1924.7,1346.3 1927.3,1345.0 1930.0,1343.6 C1932.7,1342.2 1935.3,1340.8 1938.0,1339.4 C1940.7,1338.0 1943.3,1336.6 1946.0,1335.2 C1948.7,1333.8 1951.3,1332.4 1954.0,1331.0 C1956.7,1329.6 1959.3,1328.1 1962.0,1326.7 C1964.7,1325.3 1967.3,1323.8 1970.0,1322.4 C1972.7,1321.0 1975.3,1319.5 1978.0,1318.0 C1980.7,1316.6 1983.3,1315.1 1986.0,1313.7 C1988.7,1312.2 1991.3,1310.7 1994.0,1309.2 C1996.7,1307.7 1999.3,1306.2 2002.0,1304.8 C2004.7,1303.3 2007.3,1301.7 2010.0,1300.2 C2012.7,1298.7 2015.3,1297.2 2018.0,1295.7 C2020.7,1294.2 2023.3,1292.6 2026.0,1291.1 C2028.7,1289.6 2031.3,1288.0 2034.0,1286.5 C2036.7,1284.9 2039.3,1283.4 2042.0,1281.8 C2044.7,1280.2 2047.3,1278.7 2050.0,1277.1 C2052.7,1275.5 2055.3,1273.9 2058.0,1272.4 C2060.7,1270.8 2063.3,1269.2 2066.0,1267.6 C2068.7,1266.0 2071.3,1264.4 2074.0,1262.8 C2076.7,1261.2 2079.3,1259.5 2082.0,1257.9 C2084.7,1256.3 2087.3,1254.7 2090.0,1253.0 C2092.7,1251.4 2095.3,1249.7 2098.0,1248.1 C2100.7,1246.5 2103.3,1244.8 2106.0,1243.1 C2108.7,1241.5 2111.3,1239.8 2114.0,1238.1 C2116.7,1236.5 2119.3,1234.8 2122.0,1233.1 C2124.7,1231.4 2127.3,1229.8 2130.0,1228.1 C2132.7,1226.4 2135.3,1224.7 2138.0,1223.0 C2140.7,1221.3 2143.3,1219.6 2146.0,1217.8 C2148.7,1216.1 2151.3,1214.4 2154.0,1212.7 C2156.7,1210.9 2159.3,1209.2 2162.0,1207.5 C2164.7,1205.7 2167.3,1204.0 2170.0,1202.3 C2172.7,1200.5 2175.3,1198.8 2178.0,1197.0 C2180.7,1195.2 2183.3,1193.5 2186.0,1191.7 C2188.7,1189.9 2191.3,1188.2 2194.0,1186.4 C2196.7,1184.6 2199.3,1182.8 2202.0,1181.0 C2204.7,1179.2 2207.3,1177.5 2210.0,1175.7 C2212.7,1173.9 2215.3,1172.1 2218.0,1170.2 C2220.7,1168.4 2223.3,1166.6 2226.0,1164.8 C2228.7,1163.0 2231.3,1161.2 2234.0,1159.3 C2236.7,1157.5 2239.3,1155.7 2242.0,1153.8 C2244.7,1152.0 2247.3,1150.2 2250.0,1148.3 C2252.7,1146.5 2255.3,1144.6 2258.0,1142.8 C2260.7,1140.9 2263.3,1139.1 2266.0,1137.2 C2268.7,1135.3 2271.3,1133.5 2274.0,1131.6 C2276.7,1129.7 2279.3,1127.9 2282.0,1126.0 C2284.7,1124.1 2287.3,1122.2 2290.0,1120.3 C2292.7,1118.4 2295.3,1116.5 2298.0,1114.7 C2300.7,1112.8 2303.3,1110.9 2306.0,1109.0 C2308.7,1107.1 2311.3,1105.1 2314.0,1103.2 C2316.7,1101.3 2319.3,1099.4 2322.0,1097.5 C2324.7,1095.6 2327.3,1093.7 2330.0,1091.7 C2332.7,1089.8 2335.3,1087.9 2338.0,1085.9 C2340.7,1084.0 2343.3,1082.1 2346.0,1080.1 C2348.7,1078.2 2351.9,1075.8 2354.0,1074.3 C2356.1,1072.8 2357.8,1071.6 2358.5,1071.0"/>
<path stroke="#00ffff" d="M313.3,1589.7 C402.8,1589.7 759.2,1589.7 850.0,1589.7 C940.8,1589.7 855.3,1589.7 858.0,1589.7 C860.7,1589.7 863.3,1589.7 866.0,1589.7 C868.7,1589.7 871.3,1589.7 874.0,1589.7 C876.7,1589.7 879.3,1589.7 882.0,1589.7 C884.7,1589.7 887.3,1589.7 890.0,1589.7 C892.7,1589.7 895.3,1589.7 898.0,1589.7 C900.7,1589.7 903.3,1589.7 906.0,1589.7 C908.7,1589.7 911.3,1589.7 914.0,1589.7 C916.7,1589.7 919.3,1589.7 922.0,1589.7 C924.7,1589.7 927.3,1589.7 930.0,1589.7 C932.7,1589.7 935.3,1589.7 938.0,1589.7 C940.7,1589.7 943.3,1589.7 946.0,1589.7 C948.7,1589.7 951.3,1589.7 954.0,1589.7 C956.7,1589.7 959.3,1589.7 962.0,1589.7 C964.7,1589.7 967.3,1589.7 970.0,1589.7 C972.7,1589.7 975.3,1589.6 978.0,1589.5 C980.7,1589.5 983.3,1589.4 986.0,1589.3 C988.7,1589.3 991.3,1589.2 994.0,1589.1 C996.7,1589.1 999.3,1589.0 1002.0,1588.9 C1004.7,1588.9 1007.3,1588.8 1010.0,1588.7 C1012.7,1588.6 1015.3,1588.5 1018.0,1588.4 C1020.7,1588.4 1023.3,1588.3 1026.0,1588.2 C1028.7,1588.1 1031.3,1588.0 1034.0,1587.9 C1036.7,1587.8 1039.3,1587.7 1042.0,1587.6 C1044.7,1587.5 1047.3,1587.4 1050.0,1587.3 C1052.7,1587.1 1055.3,1587.0 1058.0,1586.9 C1060.7,1586.8 1063.3,1586.7 1066.0,1586.5 C1068.7,1586.4 1071.3,1586.3 1074.0,1586.2 C1076.7,1586.0 1079.3,1585.9 1082.0,1585.8 C1084.7,1585.6 1087.3,1585.5 1090.0,1585.3 C1092.7,1585.2 1095.3,1585.0 1098.0,1584.9 C1100.7,1584.7 1103.3,1584.6 1106.0,1584.4 C1108.7,1584.3 1111.3,1584.1 1114.0,1583.9 C1116.7,1583.8 1119.3,1583.6 1122.0,1583.4 C1124.7,1583.3 1127.3,1583.1 1130.0,1582.9 C1132.7,1582.7 1135.3,1582.6 1138.0,1582.4 C1140.7,1582.2 1143.3,1582.0 1146.0,1581.8 C1148.7,1581.6 1151.3,1581.4 1154.0,1581.2 C1156.7,1581.0 1159.3,1580.8 1162.0,1580.6 C1164.7,1580.4 1167.3,1580.2 1170.0,1580.0 C1172.7,1579.7 1175.3,1579.5 1178.0,1579.3 C1180.7,1579.1 1183.3,1578.9 1186.0,1578.6 C1188.7,1578.4 1191.3,1578.2 1194.0,1577.9 C1196.7,1577.7 1199.3,1577.4 1202.0,1577.2 C1204.7,1576.9 1207.3,1576.7 1210.0,1576.4 C1212.7,1576.2 1215.3,1575.9 1218.0,1575.7 C1220.7,1575.4 1223.3,1575.1 1226.0,1574.9 C1228.7,1574.6 1231.3,1574.3 1234.0,1574.1 C1236.7,1573.8 1239.3,1573.5 1242.0,1573.2 C1244.7,1572.9 1247.3,1572.6 1250.0,1572.3 C1252.7,1572.0 1255.3,1571.7 1258.0,1571.4 C1260.7,1571.1 1263.3,1570.8 1266.0,1570.5 C1268.7,1570.2 1271.3,1569.9 1274.0,1569.6 C1276.7,1569.3 1279.3,1568.9 1282.0,1568.6 C1284.7,1568.3 1287.3,1568.0 1290.0,1567.6 C1292.7,1567.3 1295.3,1566.9 1298.0,1566.6 C1300.7,1566.2 1303.3,1565.9 1306.0,1565.5 C1308.7,1565.2 1311.3,1564.8 1314.0,1564.5 C1316.7,1564.1 1319.3,1563.7 1322.0,1563.4 C1324.7,1563.0 1327.3,1562.6 1330.0,1562.2 C1332.7,1561.9 1335.3,1561.5 1338.0,1561.1 C1340.7,1560.7 1343.3,1560.3 1346.0,1559.9 C1348.7,1559.5 1351.3,1559.1 1354.0,1558.7 C1356.7,1558.3 1359.3,1557.9 1362.0,1557.5 C1364.7,1557.0 1367.3,1556.6 1370.0,1556.2 C1372.7,1555.8 1375.3,1555.3 1378.0,1554.9 C1380.7,1554.5 1383.3,1554.0 1386.0,1553.6 C1388.7,1553.1 1391.3,1552.7 1394.0,1552.2 C1396.7,1551.8 1399.3,1551.3 1402.0,1550.8 C1404.7,1550.4 1407.3,1549.9 1410.0,1549.4 C1412.7,1549.0 1415.3,1548.5 1418.0,1548.0 C1420.7,1547.5 1423.3,1547.0 1426.0,1546.5 C1428.7,1546.0 1431.3,1545.5 1434.0,1545.0 C1436.7,1544.5 1439.3,1544.0 1442.0,1543.5 C1444.7,1543.0 1447.3,1542.5 1450.0,1541.9 C1452.7,1541.4 1455.3,1540.9 1458.0,1540.3 C1460.7,1539.8 1463.3,1539.3 1466.0,1538.7 C1468.7,1538.2 1471.3,1537.6 1474.0,1537.1 C1476.7,1536.5 1479.3,1535.9 1482.0,1535.4 C1484.7,1534.8 1487.3,1534.2 1490.0,1533.7 C1492.7,1533.1 1495.3,1532.5 1498.0,1531.9 C1500.7,1531.3 1503.3,1530.7 1506.0,1530.1 C1508.7,1529.5 1511.3,1528.9 1514.0,1528.3 C1516.7,1527.7 1519.3,1527.1 1522.0,1526.5 C1524.7,1525.9 1527.3,1525.2 1530.0,1524.6 C1532.7,1524.0 1535.3,1523.3 1538.0,1522.7 C1540.7,1522.1 1543.3,1521.4 1546.0,1520.8 C1548.7,1520.1 1551.3,1519.4 1554.0,1518.8 C1556.7,1518.1 1559.3,1517.4 1562.0,1516.8 C1564.7,1516.1 1567.3,1515.4 1570.0,1514.7 C1572.7,1514.0 1575.3,1513.3 1578.0,1512.6 C1580.7,1511.9 1583.3,1511.2 1586.0,1510.5 C1588.7,1509.8 1591.3,1509.1 1594.0,1508.4 C1596.7,1507.7 1599.3,1506.9 1602.0,1506.2 C1604.7,1505.5 1607.3,1504.7 1610.0,1504.0 C1612.7,1503.2 1615.3,1502.5 1618.0,1501.7 C1620.7,1501.0 1623.3,1500.2 1626.0,1499.4 C1628.7,1498.7 1631.3,1497.9 1634.0,1497.1 C1636.7,1496.3 1639.3,1495.6 1642.0,1494.8 C1644.7,1494.0 1647.3,1493.2 1650.0,1492.4 C1652.7,1491.6 1655.3,1490.8 1658.0,1489.9 C1660.7,1489.1 1663.3,1488.3 1666.0,1487.5 C1668.7,1486.6 1671.3,1485.8 1674.0,1485.0 C1676.7,1484.1 1679.3,1483.3 1682.0,1482.4 C1684.7,1481.6 1687.3,1480.7 1690.0,1479.9 C1692.7,1479.0 1695.3,1478.1 1698.0,1477.2 C1700.7,1476.4 1703.3,1475.5 1706.0,1474.6 C1708.7,1473.7 1711.3,1472.8 1714.0,1471.9 C1716.7,1471.0 1719.3,1470.1 1722.0,1469.2 C1724.7,1468.3 1727.3,1467.4 1730.0,1466.4 C1732.7,1465.5 1735.3,1464.6 1738.0,1463.7 C1740.7,1462.7 1743.3,1461.8 1746.0,1460.8 C1748.7,1459.9 1751.3,1458.9 1754.0,1458.0 C1756.7,1457.0 1759.3,1456.0 1762.0,1455.1 C1764.7,1454.1 1767.3,1453.1 1770.0,1452.1 C1772.7,1451.2 1775.3,1450.2 1778.0,1449.2 C1780.7,1448.2 1783.3,1447.2 1786.0,1446.2 C1788.7,1445.2 1791.3,1444.2 1794.0,1443.1 C1796.7,1442.1 1799.3,1441.1 1802.0,1440.1 C1804.7,1439.0 1807.3,1438.0 1810.0,1437.0 C1812.7,1435.9 1815.3,1434.9 1818.0,1433.8 C1820.7,1432.8 1823.3,1431.7 1826.0,1430.6 C1828.7,1429.6 1831.3,1428.5 1834.0,1427.4 C1836.7,1426.3 1839.3,1425.2 1842.0,1424.2 C1844.7,1423.1 1847.3,1422.0 1850.0,1420.9 C1852.7,1419.8 1855.3,1418.7 1858.0,1417.5 C1860.7,1416.4 1863.3,1415.3 1866.0,1414.2 C1868.7,1413.1 1871.3,1411.9 1874.0,1410.8 C1876.7,1409.7 1879.3,1408.5 1882.0,1407.4 C1884.7,1406.2 1887.3,1405.1 1890.0,1403.9 C1892.7,1402.7 1895.3,1401.6 1898.0,1400.4 C1900.7,1399.2 1903.3,1398.0 1906.0,1396.9 C1908.7,1395.7 1911.3,1394.5 1914.0,1393.3 C1916.7,1392.1 1919.3,1390.9 1922.0,1389.7 C1924.7,1388.5 1927.3,1387.2 1930.0,1386.0 C1932.7,1384.8 1935.3,1383.6 1938.0,1382.3 C1940.7,1381.1 1943.3,1379.9 1946.0,1378.6 C1948.7,1377.4 1951.3,1376.1 1954.0,1374.9 C1956.7,1373.6 1959.3,1372.4 1962.0,1371.1 C1964.7,1369.8 1967.3,1368.5 1970.0,1367.3 C1972.7,1366.0 1975.3,1364.7 1978.0,1363.4 C1980.7,1362.1 1983.3,1360.8 1986.0,1359.5 C1988.7,1358.2 1991.3,1356.9 1994.0,1355.6 C1996.7,1354.3 1999.3,1352.9 2002.0,1351.6 C2004.7,1350.3 2007.3,1349.0 2010.0,1347.6 C2012.7,1346.3 2015.3,1344.9 2018.0,1343.6 C2020.7,1342.2 2023.3,1340.9 2026.0,1339.5 C2028.7,1338.1 2031.3,1336.8 2034.0,1335.4 C2036.7,1334.0 2039.3,1332.6 2042.0,1331.2 C2044.7,1329.9 2047.3,1328.5 2050.0,1327.1 C2052.7,1325.7 2055.3,1324.3 2058.0,1322.9 C2060.7,1321.4 2063.3,1320.0 2066.0,1318.6 C2068.7,1317.2 2071.3,1315.8 2074.0,1314.3 C2076.7,1312.9 2079.3,1311.4 2082.0,1310.0 C2084.7,1308.5 2087.3,1307.1 2090.0,1305.6 C2092.7,1304.2 2095.3,1302.7 2098.0,1301.2 C2100.7,1299.8 2103.3,1298.3 2106.0,1296.8 C2108.7,1295.3 2111.3,1293.8 2114.0,1292.3 C2116.7,1290.9 2119.3,1289.4 2122.0,1287.8 C2124.7,1286.3 2127.3,1284.8 2130.0,1283.3 C2132.7,1281.8 2135.3,1280.3 2138.0,1278.7 C2140.7,1277.2 2143.3,1275.7 2146.0,1274.1 C2148.7,1272.6 2151.3,1271.0 2154.0,1269.5 C2156.7,1267.9 2159.3,1266.4 2162.0,1264.8 C2164.7,1263.2 2167.3,1261.7 2170.0,1260.1 C2172.7,1258.5 2175.3,1256.9 2178.0,1255.3 C2180.7,1253.8 2183.3,1252.2 2186.0,1250.6 C2188.7,1249.0 2191.3,1247.4 2194.0,1245.7 C2196.7,1244.1 2199.3,1242.5 2202.0,1240.9 C2204.7,1239.3 2207.3,1237.6 2210.0,1236.0 C2212.7,1234.4 2215.3,1232.7 2218.0,1231.1 C2220.7,1229.4 2223.3,1227.8 2226.0,1226.1 C2228.7,1224.4 2231.3,1222.8 2234.0,1221.1 C2236.7,1219.4 2239.3,1217.8 2242.0,1216.1 C2244.7,1214.4 2247.3,1212.7 2250.0,1211.0 C2252.7,1209.3 2255.3,1207.6 2258.0,1205.9 C2260.7,1204.2 2263.3,1202.5 2266.0,1200.8 C2268.7,1199.0 2271.3,1197.3 2274.0,1195.6 C2276.7,1193.8 2279.3,1192.1 2282.0,1190.4 C2284.7,1188.6 2287.3,1186.9 2290.0,1185.1 C2292.7,1183.4 2295.3,1181.6 2298.0,1179.8 C2300.7,1178.1 2303.3,1176.3 2306.0,1174.5 C2308.7,1172.7 2311.3,1171.0 2314.0,1169.2 C2316.7,1167.4 2319.3,1165.6 2322.0,1163.8 C2324.7,1162.0 2327.3,1160.2 2330.0,1158.4 C2332.7,1156.5 2335.3,1154.7 2338.0,1152.9 C2340.7,1151.1 2343.3,1149.2 2346.0,1147.4 C2348.7,1145.6 2351.9,1143.3 2354.0,1141.9 C2356.1,1140.4 2357.8,1139.3 2358.5,1138.7"/>
<path stroke="#ff00ff" d="M313.3,1589.7 C394.4,1589.7 717.5,1589.7 800.0,1589.7 C882.5,1589.7 805.3,1589.7 808.0,1589.7 C810.7,1589.7 813.3,1589.7 816.0,1589.7 C818.7,1589.7 821.3,1589.7 824.0,1589.7 C826.7,1589.7 829.3,1589.7 832.0,1589.7 C834.7,1589.7 837.3,1589.7 840.0,1589.7 C842.7,1589.7 845.3,1589.7 848.0,1589.7 C850.7,1589.7 853.3,1589.7 856.0,1589.7 C858.7,1589.7 861.3,1589.7 864.0,1589.7 C866.7,1589.7 869.3,1589.7 872.0,1589.7 C874.7,1589.7 877.3,1589.7 880.0,1589.7 C882.7,1589.7 885.3,1589.7 888.0,1589.7 C890.7,1589.7 893.3,1589.7 896.0,1589.7 C898.7,1589.7 901.3,1589.7 904.0,1589.7 C906.7,1589.7 909.3,1589.7 912.0,1589.6 C914.7,1589.6 917.3,1589.6 920.0,1589.5 C922.7,1589.5 925.3,1589.4 928.0,1589.4 C930.7,1589.3 933.3,1589.3 936.0,1589.2 C938.7,1589.2 941.3,1589.1 944.0,1589.0 C946.7,1589.0 949.3,1588.9 952.0,1588.8 C954.7,1588.7 957.3,1588.7 960.0,1588.6 C962.7,1588.5 965.3,1588.4 968.0,1588.3 C970.7,1588.2 973.3,1588.1 976.0,1588.0 C978.7,1587.9 981.3,1587.8 984.0,1587.6 C986.7,1587.5 989.3,1587.4 992.0,1587.3 C994.7,1587.1 997.3,1587.0 1000.0,1586.8 C1002.7,1586.7 1005.3,1586.5 1008.0,1586.4 C1010.7,1586.2 1013.3,1586.1 1016.0,1585.9 C1018.7,1585.7 1021.3,1585.5 1024.0,1585.3 C1026.7,1585.2 1029.3,1585.0 1032.0,1584.8 C1034.7,1584.6 1037.3,1584.4 1040.0,1584.1 C1042.7,1583.9 1045.3,1583.7 1048.0,1583.5 C1050.7,1583.2 1053.3,1583.0 1056.0,1582.7 C1058.7,1582.5 1061.3,1582.2 1064.0,1581.9 C1066.7,1581.7 1069.3,1581.4 1072.0,1581.1 C1074.7,1580.8 1077.3,1580.5 1080.0,1580.2 C1082.7,1579.9 1085.3,1579.6 1088.0,1579.3 C1090.7,1579.0 1093.3,1578.7 1096.0,1578.3 C1098.7,1578.0 1101.3,1577.6 1104.0,1577.3 C1106.7,1576.9 1109.3,1576.6 1112.0,1576.2 C1114.7,1575.8 1117.3,1575.4 1120.0,1575.0 C1122.7,1574.6 1125.3,1574.2 1128.0,1573.8 C1130.7,1573.4 1133.3,1573.0 1136.0,1572.6 C1138.7,1572.1 1141.3,1571.7 1144.0,1571.3 C1146.7,1570.8 1149.3,1570.4 1152.0,1569.9 C1154.7,1569.4 1157.3,1568.9 1160.0,1568.5 C1162.7,1568.0 1165.3,1567.5 1168.0,1567.0 C1170.7,1566.5 1173.3,1565.9 1176.0,1565.4 C1178.7,1564.9 1181.3,1564.3 1184.0,1563.8 C1186.7,1563.3 1189.3,1562.7 1192.0,1562.1 C1194.7,1561.6 1197.3,1561.0 1200.0,1560.4 C1202.7,1559.8 1205.3,1559.2 1208.0,1558.6 C1210.7,1558.0 1213.3,1557.4 1216.0,1556.7 C1218.7,1556.1 1221.3,1555.5 1224.0,1554.8 C1226.7,1554.2 1229.3,1553.5 1232.0,1552.8 C1234.7,1552.2 1237.3,1551.5 1240.0,1550.8 C1242.7,1550.1 1245.3,1549.4 1248.0,1548.7 C1250.7,1547.9 1253.3,1547.2 1256.0,1546.5 C1258.7,1545.7 1261.3,1545.0 1264.0,1544.2 C1266.7,1543.5 1269.3,1542.7 1272.0,1541.9 C1274.7,1541.1 1277.3,1540.3 1280.0,1539.5 C1282.7,1538.7 1285.3,1537.9 1288.0,1537.1 C1290.7,1536.2 1293.3,1535.4 1296.0,1534.5 C1298.7,1533.7 1301.3,1532.8 1304.0,1531.9 C1306.7,1531.1 1309.3,1530.2 1312.0,1529.3 C1314.7,1528.4 1317.3,1527.4 1320.0,1526.5 C1322.7,1525.6 1325.3,1524.7 1328.0,1523.7 C1330.7,1522.8 1333.3,1521.8 1336.0,1520.8 C1338.7,1519.9 1341.3,1518.9 1344.0,1517.9 C1346.7,1516.9 1349.3,1515.9 1352.0,1514.9 C1354.7,1513.9 1357.3,1512.8 1360.0,1511.8 C1362.7,1510.8 1365.3,1509.7 1368.0,1508.7 C1370.7,1507.6 1373.3,1506.5 1376.0,1505.5 C1378.7,1504.4 1381.3,1503.3 1384.0,1502.2 C1386.7,1501.1 1389.3,1500.0 1392.0,1498.8 C1394.7,1497.7 1397.3,1496.6 1400.0,1495.4 C1402.7,1494.3 1405.3,1493.1 1408.0,1492.0 C1410.7,1490.8 1413.3,1489.6 1416.0,1488.5 C1418.7,1487.3 1421.3,1486.1 1424.0,1484.9 C1426.7,1483.7 1429.3,1482.4 1432.0,1481.2 C1434.7,1480.0 1437.3,1478.8 1440.0,1477.5 C1442.7,1476.3 1445.3,1475.0 1448.0,1473.8 C1450.7,1472.5 1453.3,1471.2 1456.0,1469.9 C1458.7,1468.6 1461.3,1467.3 1464.0,1466.0 C1466.7,1464.7 1469.3,1463.4 1472.0,1462.1 C1474.7,1460.8 1477.3,1459.5 1480.0,1458.1 C1482.7,1456.8 1485.3,1455.4 1488.0,1454.1 C1490.7,1452.7 1493.3,1451.3 1496.0,1450.0 C1498.7,1448.6 1501.3,1447.2 1504.0,1445.8 C1506.7,1444.4 1509.3,1443.0 1512.0,1441.6 C1514.7,1440.2 1517.3,1438.8 1520.0,1437.3 C1522.7,1435.9 1525.3,1434.4 1528.0,1433.0 C1530.7,1431.6 1533.3,1430.1 1536.0,1428.6 C1538.7,1427.2 1541.3,1425.7 1544.0,1424.2 C1546.7,1422.7 1549.3,1421.2 1552.0,1419.7 C1554.7,1418.2 1557.3,1416.7 1560.0,1415.2 C1562.7,1413.7 1565.3,1412.2 1568.0,1410.6 C1570.7,1409.1 1573.3,1407.6 1576.0,1406.0 C1578.7,1404.5 1581.3,1402.9 1584.0,1401.4 C1586.7,1399.8 1589.3,1398.2 1592.0,1396.7 C1594.7,1395.1 1597.3,1393.5 1600.0,1391.9 C1602.7,1390.3 1605.3,1388.7 1608.0,1387.1 C1610.7,1385.5 1613.3,1383.9 1616.0,1382.2 C1618.7,1380.6 1621.3,1379.0 1624.0,1377.4 C1626.7,1375.7 1629.3,1374.1 1632.0,1372.4 C1634.7,1370.8 1637.3,1369.1 1640.0,1367.4 C1642.7,1365.8 1645.3,1364.1 1648.0,1362.4 C1650.7,1360.7 1653.3,1359.1 1656.0,1357.4 C1658.7,1355.7 1661.3,1354.0 1664.0,1352.3 C1666.7,1350.6 1669.3,1348.8 1672.0,1347.1 C1674.7,1345.4 1677.3,1343.7 1680.0,1341.9 C1682.7,1340.2 1685.3,1338.5 1688.0,1336.7 C1690.7,1335.0 1693.3,1333.2 1696.0,1331.5 C1698.7,1329.7 1701.3,1328.0 1704.0,1326.2 C1706.7,1324.4 1709.3,1322.7 1712.0,1320.9 C1714.7,1319.1 1717.3,1317.3 1720.0,1315.5 C1722.7,1313.7 1725.3,1311.9 1728.0,1310.1 C1730.7,1308.3 1733.3,1306.5 1736.0,1304.7 C1738.7,1302.9 1741.3,1301.1 1744.0,1299.3 C1746.7,1297.4 1749.3,1295.6 1752.0,1293.8 C1754.7,1292.0 1757.3,1290.1 1760.0,1288.3 C1762.7,1286.4 1765.3,1284.6 1768.0,1282.7 C1770.7,1280.9 1773.3,1279.0 1776.0,1277.2 C1778.7,1275.3 1781.3,1273.4 1784.0,1271.6 C1786.7,1269.7 1789.3,1267.8 1792.0,1265.9 C1794.7,1264.1 1797.3,1262.2 1800.0,1260.3 C1802.7,1258.4 1805.3,1256.5 1808.0,1254.6 C1810.7,1252.7 1813.3,1250.8 1816.0,1248.9 C1818.7,1247.0 1821.3,1245.1 1824.0,1243.2 C1826.7,1241.3 1829.3,1239.4 1832.0,1237.5 C1834.7,1235.6 1837.3,1233.6 1840.0,1231.7 C1842.7,1229.8 1845.3,1227.9 1848.0,1225.9 C1850.7,1224.0 1853.3,1222.1 1856.0,1220.1 C1858.7,1218.2 1861.3,1216.2 1864.0,1214.3 C1866.7,1212.4 1869.3,1210.4 1872.0,1208.5 C1874.7,1206.5 1877.3,1204.5 1880.0,1202.6 C1882.7,1200.6 1885.3,1198.7 1888.0,1196.7 C1890.7,1194.8 1893.3,1192.8 1896.0,1190.8 C1898.7,1188.9 1901.3,1186.9 1904.0,1184.9 C1906.7,1183.0 1909.3,1181.0 1912.0,1179.0 C1914.7,1177.0 1917.3,1175.0 1920.0,1173.1 C1922.7,1171.1 1925.3,1169.1 1928.0,1167.1 C1930.7,1165.1 1933.3,1163.2 1936.0,1161.2 C1938.7,1159.2 1941.3,1157.2 1944.0,1155.2 C1946.7,1153.2 1949.3,1151.2 1952.0,1149.2 C1954.7,1147.2 1957.3,1145.2 1960.0,1143.2 C1962.7,1141.2 1965.3,1139.2 1968.0,1137.2 C1970.7,1135.2 1973.3,1133.2 1976.0,1131.2 C1978.7,1129.2 1981.3,1127.2 1984.0,1125.2 C1986.7,1123.2 1989.3,1121.2 1992.0,1119.2 C1994.7,1117.2 1997.3,1115.2 2000.0,1113.2 C2002.7,1111.2 2005.3,1109.2 2008.0,1107.2 C2010.7,1105.2 2013.3,1103.1 2016.0,1101.1 C2018.7,1099.1 2021.3,1097.1 2024.0,1095.1 C2026.7,1093.1 2029.3,1091.1 2032.0,1089.1 C2034.7,1087.1 2037.3,1085.1 2040.0,1083.0 C2042.7,1081.0 2045.3,1079.0 2048.0,1077.0 C2050.7,1075.0 2053.3,1073.0 2056.0,1071.0 C2058.7,1069.0 2061.3,1067.0 2064.0,1064.9 C2066.7,1062.9 2069.3,1060.9 2072.0,1058.9 C2074.7,1056.9 2077.3,1054.9 2080.0,1052.9 C2082.7,1050.9 2085.3,1048.9 2088.0,1046.9 C2090.7,1044.9 2093.3,1042.9 2096.0,1040.9 C2098.7,1038.9 2101.3,1036.9 2104.0,1034.8 C2106.7,1032.8 2109.3,1030.8 2112.0,1028.8 C2114.7,1026.8 2117.3,1024.8 2120.0,1022.8 C2122.7,1020.9 2125.3,1018.9 2128.0,1016.9 C2130.7,1014.9 2133.3,1012.9 2136.0,1010.9 C2138.7,1008.9 2141.3,1006.9 2144.0,1004.9 C2146.7,1002.9 2149.3,1000.9 2152.0,999.0 C2154.7,997.0 2157.3,995.0 2160.0,993.0 C2162.7,991.0 2165.3,989.1 2168.0,987.1 C2170.7,985.1 2173.3,983.1 2176.0,981.2 C2178.7,979.2 2181.3,977.2 2184.0,975.3 C2186.7,973.3 2189.3,971.4 2192.0,969.4 C2194.7,967.5 2197.3,965.5 2200.0,963.6 C2202.7,961.6 2205.3,959.7 2208.0,957.8 C2210.7,955.8 2213.3,953.9 2216.0,952.0 C2218.7,950.1 2221.3,948.2 2224.0,946.2 C2226.7,944.3 2229.3,942.4 2232.0,940.5 C2234.7,938.7 2237.3,936.8 2240.0,934.9 C2242.7,933.0 2245.3,931.1 2248.0,929.3 C2250.7,927.4 2253.3,925.6 2256.0,923.7 C2258.7,921.9 2261.3,920.0 2264.0,918.2 C2266.7,916.4 2269.3,914.6 2272.0,912.7 C2274.7,910.9 2277.3,909.1 2280.0,907.3 C2282.7,905.6 2285.3,903.8 2288.0,902.0 C2290.7,900.2 2293.3,898.5 2296.0,896.7 C2298.7,895.0 2301.3,893.2 2304.0,891.5 C2306.7,889.8 2309.3,888.1 2312.0,886.4 C2314.7,884.7 2317.3,883.0 2320.0,881.3 C2322.7,879.6 2325.3,878.0 2328.0,876.3 C2330.7,874.7 2333.3,873.0 2336.0,871.4 C2338.7,869.8 2341.3,868.2 2344.0,866.6 C2346.7,865.0 2349.6,863.2 2352.0,861.8 C2354.4,860.4 2357.4,858.7 2358.5,858.0"/>
</g>
</svg></body></html>
